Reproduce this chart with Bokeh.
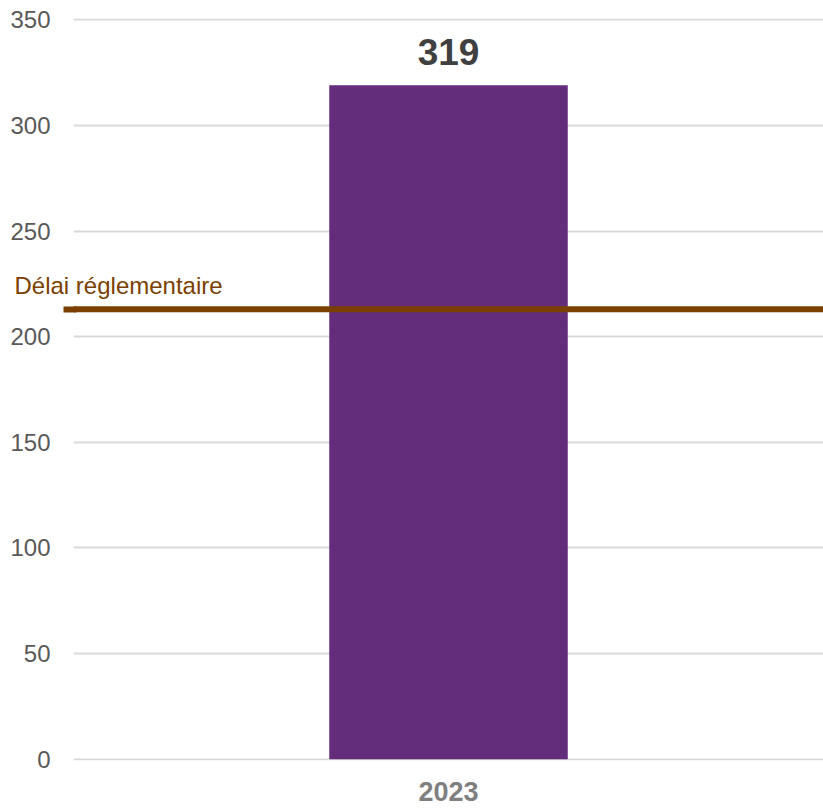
from bokeh.plotting import figure
from bokeh.models import (Range1d, FactorRange, Span, LabelSet, ColumnDataSource,
                          SingleIntervalTicker, FixedTicker, LinearAxis)
from bokeh.core.properties import value
from bokeh.embed import file_html
from bokeh.resources import INLINE

years = ["2023"]
values = [319]
value_labels = ["319"]
threshold = 213
threshold_label = "Délai réglementaire"

FONT = "Liberation Sans"
BROWN = "#7B3F00"
W, H = 823, 808
TOP, BOTTOM, LEFT = 18, 48, 73
Y0, Y1 = -0.6, 350.6

src = ColumnDataSource(dict(x=years, top=values, label=value_labels))

p = figure(width=W, height=H, x_range=FactorRange(*years), y_range=Range1d(Y0, Y1),
           output_backend="svg", toolbar_location=None,
           min_border_left=LEFT, min_border_right=0, min_border_top=TOP, min_border_bottom=BOTTOM)
p.outline_line_color = None
p.background_fill_color = "white"
p.border_fill_color = "white"

p.vbar(x="x", top="top", width=0.318, source=src, color="#632D7C", line_color=None)

p.add_layout(LabelSet(x="x", y="top", text="label", source=src, y_offset=20,
                      text_align="center", text_baseline="alphabetic",
                      text_font=value(FONT), text_font_style="bold", text_font_size="37px",
                      text_color="#404040"))

p.add_layout(Span(location=threshold, dimension="width", line_color=BROWN, line_width=6))

# short stub of the threshold line reaching left of the plot frame
stub_axis = LinearAxis(ticker=FixedTicker(ticks=[threshold]),
                       major_label_overrides={threshold: ""})
stub_axis.axis_line_color = None
stub_axis.minor_tick_line_color = None
stub_axis.major_tick_in = 3
stub_axis.major_tick_out = 10
stub_axis.major_tick_line_color = BROWN
stub_axis.major_tick_line_width = 6
stub_axis.major_label_standoff = 0
stub_axis.major_label_text_font_size = "1px"

main_axis = p.yaxis[0]
main_axis.ticker = SingleIntervalTicker(interval=50)
main_axis.axis_line_color = None
main_axis.major_tick_line_color = None
main_axis.minor_tick_line_color = None
main_axis.major_label_standoff = 7
main_axis.major_label_text_font = FONT
main_axis.major_label_text_font_size = "24px"
main_axis.major_label_text_color = "#595959"
p.left = [stub_axis, main_axis]

# threshold caption, drawn as a guide label so it is not clipped by the frame
px_per_unit = (H - TOP - BOTTOM) / (Y1 - Y0)
label_y = round(threshold + 23.5 / px_per_unit, 3)
cap_axis = LinearAxis(ticker=FixedTicker(ticks=[label_y]),
                      major_label_overrides={label_y: threshold_label})
cap_axis.axis_line_color = None
cap_axis.major_tick_line_color = None
cap_axis.minor_tick_line_color = None
cap_axis.major_label_standoff = -(W - 8)
cap_axis.major_label_text_font = FONT
cap_axis.major_label_text_font_size = "24px"
cap_axis.major_label_text_color = BROWN
p.add_layout(cap_axis, "right")

p.xaxis.axis_line_color = None
p.xaxis.major_tick_line_color = None
p.xaxis.major_label_standoff = 15
p.xaxis.major_label_text_font = FONT
p.xaxis.major_label_text_font_style = "bold"
p.xaxis.major_label_text_font_size = "27px"
p.xaxis.major_label_text_color = "#7F7F7F"

p.xgrid.grid_line_color = None
p.ygrid.grid_line_color = "#D9D9D9"
p.ygrid.grid_line_width = 2

open("out.html", "w").write(file_html(p, INLINE))
